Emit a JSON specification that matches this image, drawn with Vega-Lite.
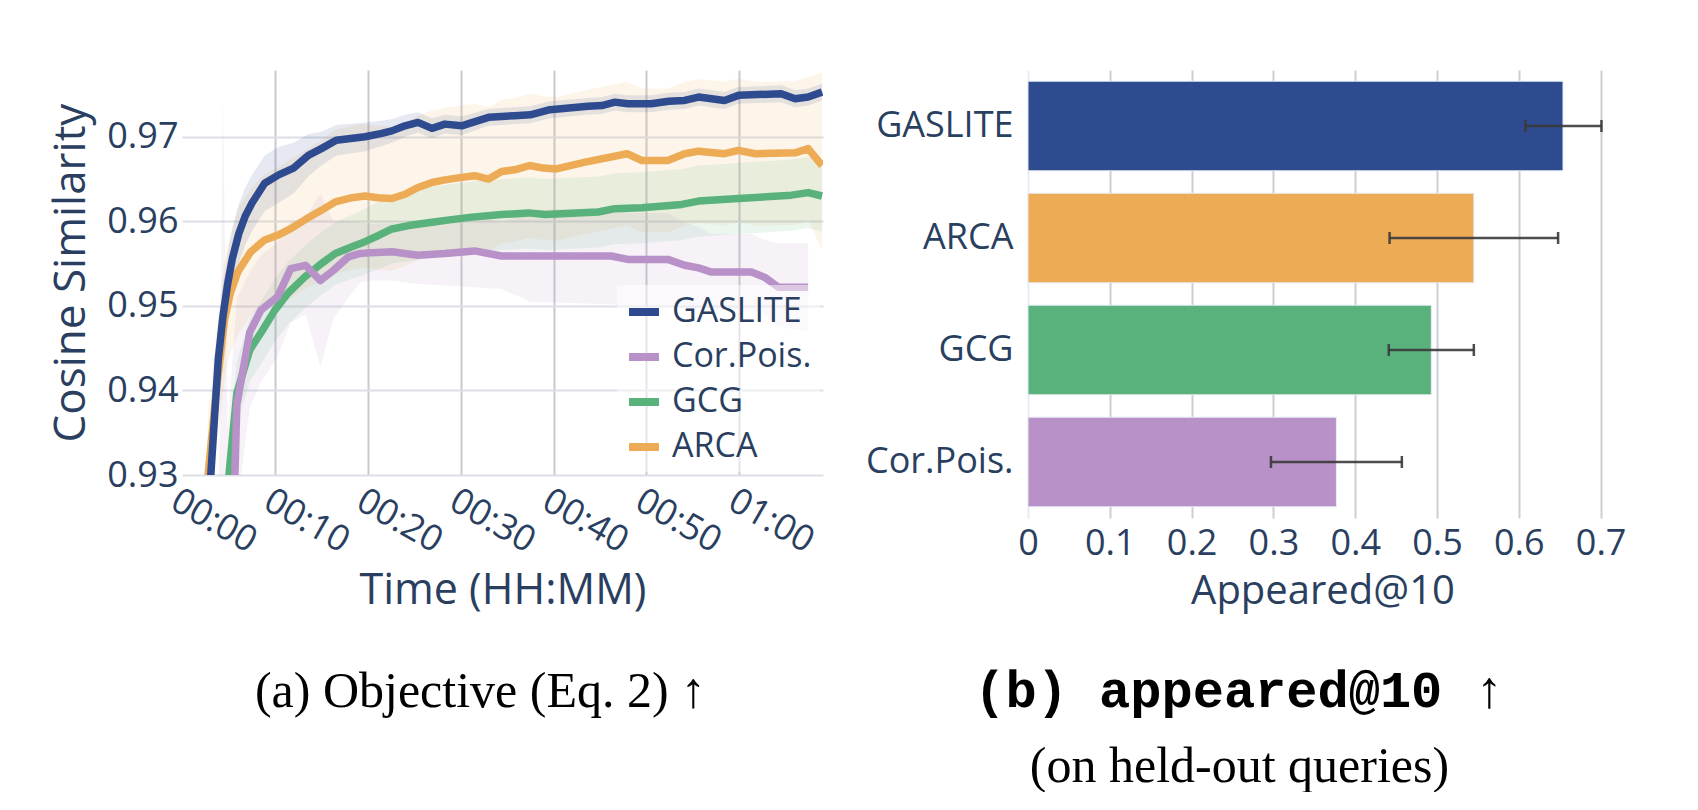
{
  "$schema": "https://vega.github.io/schema/vega-lite/v6.json",
  "background": "white",
  "padding": {"left": 49, "top": 70, "right": 0, "bottom": 0},
  "spacing": 42,
  "datasets": {
    "lines": [
      {"method": "ARCA", "t": 2.5, "m": 0.92, "lo": 0.913, "hi": 0.927},
      {"method": "ARCA", "t": 2.8, "m": 0.93, "lo": 0.923, "hi": 0.937},
      {"method": "ARCA", "t": 3.7, "m": 0.94, "lo": 0.933, "hi": 0.947},
      {"method": "ARCA", "t": 4.6, "m": 0.9485, "lo": 0.9415, "hi": 0.9555},
      {"method": "ARCA", "t": 5.2, "m": 0.9515, "lo": 0.9445, "hi": 0.9585},
      {"method": "ARCA", "t": 6.0, "m": 0.954, "lo": 0.9465, "hi": 0.9615},
      {"method": "ARCA", "t": 7.4, "m": 0.9564, "lo": 0.9489, "hi": 0.9639},
      {"method": "ARCA", "t": 8.9, "m": 0.9578, "lo": 0.95, "hi": 0.9656},
      {"method": "ARCA", "t": 10.4, "m": 0.9584, "lo": 0.9504, "hi": 0.9664},
      {"method": "ARCA", "t": 11.8, "m": 0.9592, "lo": 0.951, "hi": 0.9674},
      {"method": "ARCA", "t": 13.4, "m": 0.9603, "lo": 0.9521, "hi": 0.9685},
      {"method": "ARCA", "t": 15.0, "m": 0.9613, "lo": 0.953, "hi": 0.9696},
      {"method": "ARCA", "t": 16.5, "m": 0.9623, "lo": 0.9538, "hi": 0.9708},
      {"method": "ARCA", "t": 18.3, "m": 0.9628, "lo": 0.9543, "hi": 0.9713},
      {"method": "ARCA", "t": 19.7, "m": 0.963, "lo": 0.9545, "hi": 0.9715},
      {"method": "ARCA", "t": 21.1, "m": 0.9628, "lo": 0.9543, "hi": 0.9713},
      {"method": "ARCA", "t": 22.6, "m": 0.9627, "lo": 0.9542, "hi": 0.9712},
      {"method": "ARCA", "t": 24.0, "m": 0.9632, "lo": 0.9547, "hi": 0.9717},
      {"method": "ARCA", "t": 25.4, "m": 0.964, "lo": 0.9555, "hi": 0.9725},
      {"method": "ARCA", "t": 26.9, "m": 0.9646, "lo": 0.9561, "hi": 0.9731},
      {"method": "ARCA", "t": 28.3, "m": 0.9649, "lo": 0.9564, "hi": 0.9734},
      {"method": "ARCA", "t": 30.1, "m": 0.9652, "lo": 0.9567, "hi": 0.9737},
      {"method": "ARCA", "t": 31.5, "m": 0.9654, "lo": 0.9569, "hi": 0.9739},
      {"method": "ARCA", "t": 33.0, "m": 0.965, "lo": 0.9565, "hi": 0.9735},
      {"method": "ARCA", "t": 34.4, "m": 0.9659, "lo": 0.9574, "hi": 0.9744},
      {"method": "ARCA", "t": 35.8, "m": 0.9661, "lo": 0.9576, "hi": 0.9746},
      {"method": "ARCA", "t": 37.4, "m": 0.9666, "lo": 0.9581, "hi": 0.9751},
      {"method": "ARCA", "t": 38.9, "m": 0.9663, "lo": 0.9578, "hi": 0.9748},
      {"method": "ARCA", "t": 40.3, "m": 0.9662, "lo": 0.9577, "hi": 0.9747},
      {"method": "ARCA", "t": 43.4, "m": 0.967, "lo": 0.9585, "hi": 0.9755},
      {"method": "ARCA", "t": 47.9, "m": 0.968, "lo": 0.9595, "hi": 0.9765},
      {"method": "ARCA", "t": 49.5, "m": 0.9672, "lo": 0.9587, "hi": 0.9757},
      {"method": "ARCA", "t": 52.3, "m": 0.9672, "lo": 0.9587, "hi": 0.9757},
      {"method": "ARCA", "t": 54.1, "m": 0.968, "lo": 0.9595, "hi": 0.9765},
      {"method": "ARCA", "t": 55.6, "m": 0.9683, "lo": 0.9598, "hi": 0.9768},
      {"method": "ARCA", "t": 58.4, "m": 0.968, "lo": 0.9595, "hi": 0.9765},
      {"method": "ARCA", "t": 59.9, "m": 0.9684, "lo": 0.9599, "hi": 0.9769},
      {"method": "ARCA", "t": 61.7, "m": 0.968, "lo": 0.9595, "hi": 0.9765},
      {"method": "ARCA", "t": 66.0, "m": 0.9681, "lo": 0.9596, "hi": 0.9766},
      {"method": "ARCA", "t": 67.4, "m": 0.9686, "lo": 0.9601, "hi": 0.9771},
      {"method": "ARCA", "t": 68.9, "m": 0.9666, "lo": 0.9566, "hi": 0.9776},

      {"method": "GCG", "t": 4.4, "m": 0.92, "lo": 0.9163, "hi": 0.9237},
      {"method": "GCG", "t": 5.05, "m": 0.93, "lo": 0.9263, "hi": 0.9337},
      {"method": "GCG", "t": 5.9, "m": 0.9397, "lo": 0.936, "hi": 0.9434},
      {"method": "GCG", "t": 7.3, "m": 0.9448, "lo": 0.9411, "hi": 0.9485},
      {"method": "GCG", "t": 8.6, "m": 0.947, "lo": 0.9433, "hi": 0.9507},
      {"method": "GCG", "t": 10.0, "m": 0.9495, "lo": 0.9458, "hi": 0.9532},
      {"method": "GCG", "t": 11.4, "m": 0.9515, "lo": 0.9478, "hi": 0.9552},
      {"method": "GCG", "t": 13.2, "m": 0.9534, "lo": 0.9497, "hi": 0.9571},
      {"method": "GCG", "t": 15.0, "m": 0.955, "lo": 0.9513, "hi": 0.9587},
      {"method": "GCG", "t": 16.5, "m": 0.9562, "lo": 0.9525, "hi": 0.9599},
      {"method": "GCG", "t": 18.3, "m": 0.957, "lo": 0.9532, "hi": 0.9608},
      {"method": "GCG", "t": 19.7, "m": 0.9576, "lo": 0.9537, "hi": 0.9615},
      {"method": "GCG", "t": 21.1, "m": 0.9583, "lo": 0.9543, "hi": 0.9623},
      {"method": "GCG", "t": 22.6, "m": 0.9591, "lo": 0.955, "hi": 0.9632},
      {"method": "GCG", "t": 24.4, "m": 0.9595, "lo": 0.9553, "hi": 0.9637},
      {"method": "GCG", "t": 26.9, "m": 0.9599, "lo": 0.9557, "hi": 0.9641},
      {"method": "GCG", "t": 29.0, "m": 0.9602, "lo": 0.956, "hi": 0.9644},
      {"method": "GCG", "t": 31.2, "m": 0.9605, "lo": 0.9563, "hi": 0.9647},
      {"method": "GCG", "t": 34.4, "m": 0.9608, "lo": 0.9566, "hi": 0.965},
      {"method": "GCG", "t": 37.3, "m": 0.961, "lo": 0.9568, "hi": 0.9652},
      {"method": "GCG", "t": 39.1, "m": 0.9608, "lo": 0.9566, "hi": 0.965},
      {"method": "GCG", "t": 44.8, "m": 0.9611, "lo": 0.9569, "hi": 0.9653},
      {"method": "GCG", "t": 46.6, "m": 0.9615, "lo": 0.9573, "hi": 0.9657},
      {"method": "GCG", "t": 49.5, "m": 0.9616, "lo": 0.9574, "hi": 0.9658},
      {"method": "GCG", "t": 53.8, "m": 0.962, "lo": 0.9578, "hi": 0.9662},
      {"method": "GCG", "t": 55.6, "m": 0.9624, "lo": 0.9582, "hi": 0.9666},
      {"method": "GCG", "t": 59.9, "m": 0.9627, "lo": 0.9585, "hi": 0.9669},
      {"method": "GCG", "t": 65.6, "m": 0.9631, "lo": 0.9589, "hi": 0.9673},
      {"method": "GCG", "t": 67.4, "m": 0.9634, "lo": 0.9592, "hi": 0.9676},
      {"method": "GCG", "t": 68.9, "m": 0.963, "lo": 0.9588, "hi": 0.9672},

      {"method": "Cor.Pois.", "t": 4.0, "m": 0.905, "lo": 0.88, "hi": 0.93},
      {"method": "Cor.Pois.", "t": 4.4, "m": 0.912, "lo": 0.85, "hi": 0.9751},
      {"method": "Cor.Pois.", "t": 4.9, "m": 0.918, "lo": 0.89, "hi": 0.935},
      {"method": "Cor.Pois.", "t": 5.5, "m": 0.925, "lo": 0.905, "hi": 0.945},
      {"method": "Cor.Pois.", "t": 5.7, "m": 0.93, "lo": 0.912, "hi": 0.948},
      {"method": "Cor.Pois.", "t": 5.9, "m": 0.9383, "lo": 0.926, "hi": 0.951},
      {"method": "Cor.Pois.", "t": 7.3, "m": 0.9469, "lo": 0.938, "hi": 0.954},
      {"method": "Cor.Pois.", "t": 8.5, "m": 0.9495, "lo": 0.941, "hi": 0.956},
      {"method": "Cor.Pois.", "t": 10.3, "m": 0.9511, "lo": 0.944, "hi": 0.9575},
      {"method": "Cor.Pois.", "t": 11.7, "m": 0.9544, "lo": 0.948, "hi": 0.96},
      {"method": "Cor.Pois.", "t": 13.3, "m": 0.9548, "lo": 0.949, "hi": 0.9605},
      {"method": "Cor.Pois.", "t": 14.9, "m": 0.953, "lo": 0.9428, "hi": 0.9633},
      {"method": "Cor.Pois.", "t": 16.3, "m": 0.9542, "lo": 0.9485, "hi": 0.96},
      {"method": "Cor.Pois.", "t": 17.9, "m": 0.9558, "lo": 0.951, "hi": 0.96},
      {"method": "Cor.Pois.", "t": 19.2, "m": 0.9562, "lo": 0.9528, "hi": 0.9598},
      {"method": "Cor.Pois.", "t": 20.4, "m": 0.9563, "lo": 0.953, "hi": 0.9597},
      {"method": "Cor.Pois.", "t": 22.6, "m": 0.9564, "lo": 0.953, "hi": 0.9598},
      {"method": "Cor.Pois.", "t": 25.4, "m": 0.956, "lo": 0.9526, "hi": 0.9594},
      {"method": "Cor.Pois.", "t": 28.3, "m": 0.9562, "lo": 0.9524, "hi": 0.96},
      {"method": "Cor.Pois.", "t": 31.5, "m": 0.9565, "lo": 0.9522, "hi": 0.9608},
      {"method": "Cor.Pois.", "t": 34.4, "m": 0.9559, "lo": 0.952, "hi": 0.9598},
      {"method": "Cor.Pois.", "t": 37.5, "m": 0.9559, "lo": 0.9505, "hi": 0.9613},
      {"method": "Cor.Pois.", "t": 46.2, "m": 0.9559, "lo": 0.9502, "hi": 0.9616},
      {"method": "Cor.Pois.", "t": 48.0, "m": 0.9555, "lo": 0.95, "hi": 0.961},
      {"method": "Cor.Pois.", "t": 52.3, "m": 0.9555, "lo": 0.95, "hi": 0.961},
      {"method": "Cor.Pois.", "t": 54.1, "m": 0.9548, "lo": 0.9497, "hi": 0.9599},
      {"method": "Cor.Pois.", "t": 55.6, "m": 0.9545, "lo": 0.9497, "hi": 0.9593},
      {"method": "Cor.Pois.", "t": 57.0, "m": 0.954, "lo": 0.9495, "hi": 0.9585},
      {"method": "Cor.Pois.", "t": 61.3, "m": 0.954, "lo": 0.9495, "hi": 0.9585},
      {"method": "Cor.Pois.", "t": 62.7, "m": 0.9534, "lo": 0.949, "hi": 0.9578},
      {"method": "Cor.Pois.", "t": 64.2, "m": 0.9522, "lo": 0.9475, "hi": 0.9574},
      {"method": "Cor.Pois.", "t": 67.4, "m": 0.9522, "lo": 0.947, "hi": 0.9574},

      {"method": "GASLITE", "t": 2.9, "m": 0.918, "lo": 0.914, "hi": 0.922},
      {"method": "GASLITE", "t": 3.1, "m": 0.93, "lo": 0.926, "hi": 0.934},
      {"method": "GASLITE", "t": 3.9, "m": 0.9436, "lo": 0.9396, "hi": 0.9476},
      {"method": "GASLITE", "t": 4.4, "m": 0.9487, "lo": 0.9449, "hi": 0.9525},
      {"method": "GASLITE", "t": 4.9, "m": 0.9525, "lo": 0.9489, "hi": 0.9561},
      {"method": "GASLITE", "t": 5.4, "m": 0.9555, "lo": 0.952, "hi": 0.959},
      {"method": "GASLITE", "t": 6.1, "m": 0.9585, "lo": 0.955, "hi": 0.962},
      {"method": "GASLITE", "t": 6.8, "m": 0.9606, "lo": 0.9572, "hi": 0.964},
      {"method": "GASLITE", "t": 7.5, "m": 0.9621, "lo": 0.9588, "hi": 0.9654},
      {"method": "GASLITE", "t": 8.9, "m": 0.9645, "lo": 0.9612, "hi": 0.9678},
      {"method": "GASLITE", "t": 10.4, "m": 0.9655, "lo": 0.9622, "hi": 0.9688},
      {"method": "GASLITE", "t": 12.0, "m": 0.9663, "lo": 0.9633, "hi": 0.9693},
      {"method": "GASLITE", "t": 13.6, "m": 0.9678, "lo": 0.9653, "hi": 0.9703},
      {"method": "GASLITE", "t": 15.0, "m": 0.9686, "lo": 0.9666, "hi": 0.9706},
      {"method": "GASLITE", "t": 16.6, "m": 0.9696, "lo": 0.9678, "hi": 0.9714},
      {"method": "GASLITE", "t": 19.7, "m": 0.97, "lo": 0.9683, "hi": 0.9717},
      {"method": "GASLITE", "t": 21.5, "m": 0.9704, "lo": 0.9689, "hi": 0.9719},
      {"method": "GASLITE", "t": 22.6, "m": 0.9707, "lo": 0.9693, "hi": 0.9721},
      {"method": "GASLITE", "t": 24.0, "m": 0.9713, "lo": 0.97, "hi": 0.9726},
      {"method": "GASLITE", "t": 25.4, "m": 0.9717, "lo": 0.9705, "hi": 0.9729},
      {"method": "GASLITE", "t": 26.9, "m": 0.971, "lo": 0.9698, "hi": 0.9722},
      {"method": "GASLITE", "t": 28.3, "m": 0.9715, "lo": 0.9704, "hi": 0.9726},
      {"method": "GASLITE", "t": 30.1, "m": 0.9713, "lo": 0.9702, "hi": 0.9724},
      {"method": "GASLITE", "t": 33.0, "m": 0.9723, "lo": 0.9713, "hi": 0.9733},
      {"method": "GASLITE", "t": 35.8, "m": 0.9725, "lo": 0.9715, "hi": 0.9735},
      {"method": "GASLITE", "t": 37.5, "m": 0.9726, "lo": 0.9716, "hi": 0.9736},
      {"method": "GASLITE", "t": 39.6, "m": 0.9732, "lo": 0.9722, "hi": 0.9742},
      {"method": "GASLITE", "t": 43.7, "m": 0.9736, "lo": 0.9726, "hi": 0.9746},
      {"method": "GASLITE", "t": 45.2, "m": 0.9737, "lo": 0.9727, "hi": 0.9747},
      {"method": "GASLITE", "t": 46.6, "m": 0.9741, "lo": 0.9731, "hi": 0.9751},
      {"method": "GASLITE", "t": 48.0, "m": 0.9739, "lo": 0.9729, "hi": 0.9749},
      {"method": "GASLITE", "t": 50.5, "m": 0.9739, "lo": 0.9729, "hi": 0.9749},
      {"method": "GASLITE", "t": 52.4, "m": 0.9742, "lo": 0.9732, "hi": 0.9752},
      {"method": "GASLITE", "t": 54.1, "m": 0.9743, "lo": 0.9733, "hi": 0.9753},
      {"method": "GASLITE", "t": 55.6, "m": 0.9747, "lo": 0.9737, "hi": 0.9757},
      {"method": "GASLITE", "t": 58.4, "m": 0.9743, "lo": 0.9733, "hi": 0.9753},
      {"method": "GASLITE", "t": 59.9, "m": 0.9749, "lo": 0.9739, "hi": 0.9759},
      {"method": "GASLITE", "t": 64.5, "m": 0.9751, "lo": 0.9741, "hi": 0.9761},
      {"method": "GASLITE", "t": 66.0, "m": 0.9745, "lo": 0.9735, "hi": 0.9755},
      {"method": "GASLITE", "t": 67.4, "m": 0.9747, "lo": 0.9737, "hi": 0.9757},
      {"method": "GASLITE", "t": 68.9, "m": 0.9753, "lo": 0.9743, "hi": 0.9763}
    ],
    "bars": [
      {"method": "GASLITE", "value": 0.654, "lo": 0.608, "hi": 0.701},
      {"method": "ARCA", "value": 0.545, "lo": 0.442, "hi": 0.648},
      {"method": "GCG", "value": 0.493, "lo": 0.441, "hi": 0.545},
      {"method": "Cor.Pois.", "value": 0.377, "lo": 0.297, "hi": 0.457}
    ]
  },
  "hconcat": [
    {
      "width": 641,
      "height": 405,
      "data": {"name": "lines"},
      "title": {
        "text": "(a) Objective (Eq. 2) ↑",
        "orient": "bottom",
        "anchor": "middle",
        "font": "Liberation Serif",
        "fontSize": 50,
        "fontWeight": "normal",
        "color": "#000000",
        "offset": 55,
        "dx": -22
      },
      "encoding": {
        "x": {
          "field": "t",
          "type": "quantitative",
          "scale": {"domain": [0, 69], "nice": false, "zero": false},
          "axis": {
            "title": "Time (HH:MM)",
            "titleFontSize": 43,
            "values": [0, 10, 20, 30, 40, 50, 60],
            "labelExpr": "(datum.value >= 60 ? '01:' : '00:') + ((datum.value % 60) < 10 ? '0' : '') + (datum.value % 60)",
            "labelAngle": 30,
            "labelAlign": "left",
            "labelBaseline": "top",
            "labelPadding": 8,
            "labelFlush": false,
            "labelOverlap": false,
            "titlePadding": 10,
            "gridColor": "#c9cad1",
            "gridWidth": 2,
            "gridOpacity": {"condition": {"test": "datum.value === 0", "value": 0}, "value": 1}
          }
        },
        "y": {
          "type": "quantitative",
          "scale": {"domain": [0.93, 0.9779], "nice": false, "zero": false},
          "axis": {
            "title": "Cosine Similarity",
            "titleFontSize": 44,
            "values": [0.93, 0.94, 0.95, 0.96, 0.97],
            "format": ".2f",
            "labelPadding": 4,
            "titlePadding": 13,
            "gridColor": "#dcdfe7",
            "gridWidth": 2
          }
        }
      },
      "layer": [
        {
          "transform": [{"filter": "datum.method === 'ARCA'"}],
          "mark": {"type": "area", "fill": "#EDAB55", "fillOpacity": 0.12, "clip": true},
          "encoding": {"y": {"field": "lo", "type": "quantitative"}, "y2": {"field": "hi"}}
        },
        {
          "transform": [{"filter": "datum.method === 'GCG'"}],
          "mark": {"type": "area", "fill": "#59B27B", "fillOpacity": 0.12, "clip": true},
          "encoding": {"y": {"field": "lo", "type": "quantitative"}, "y2": {"field": "hi"}}
        },
        {
          "transform": [{"filter": "datum.method === 'Cor.Pois.'"}],
          "mark": {"type": "area", "fill": "#B791C7", "fillOpacity": 0.12, "clip": true},
          "encoding": {"y": {"field": "lo", "type": "quantitative"}, "y2": {"field": "hi"}}
        },
        {
          "transform": [{"filter": "datum.method === 'GASLITE'"}],
          "mark": {"type": "area", "fill": "#2F4B8F", "fillOpacity": 0.12, "clip": true},
          "encoding": {"y": {"field": "lo", "type": "quantitative"}, "y2": {"field": "hi"}}
        },
        {
          "mark": {"type": "line", "strokeWidth": 7.5, "clip": true, "strokeJoin": "round"},
          "encoding": {
            "y": {"field": "m", "type": "quantitative"},
            "color": {
              "field": "method",
              "type": "nominal",
              "scale": {
                "domain": ["GASLITE", "Cor.Pois.", "GCG", "ARCA"],
                "range": ["#2F4B8F", "#B791C7", "#59B27B", "#EDAB55"]
              },
              "legend": {
                "title": null,
                "orient": "bottom-right",
                "offset": 3,
                "fillColor": "rgba(255,255,255,0.5)",
                "padding": 8,
                "symbolType": "stroke",
                "symbolStrokeWidth": 8,
                "symbolSize": 900,
                "symbolOpacity": 1,
                "labelFont": "Open Sans",
                "labelFontSize": 34,
                "labelColor": "#2a3f5f",
                "labelOffset": 9,
                "labelLimit": 400,
                "rowPadding": 9
              }
            }
          }
        }
      ]
    },
    {
      "width": 589,
      "height": 448,
      "data": {"name": "bars"},
      "title": {
        "text": "(b) appeared@10 ↑",
        "subtitle": "(on held-out queries)",
        "orient": "bottom",
        "anchor": "middle",
        "font": "Liberation Mono",
        "fontSize": 52,
        "fontWeight": "bold",
        "color": "#000000",
        "subtitleFont": "Liberation Serif",
        "subtitleFontSize": 50,
        "subtitleColor": "#000000",
        "subtitlePadding": 24,
        "offset": 55,
        "dx": -83
      },
      "encoding": {
        "y": {
          "field": "method",
          "type": "nominal",
          "sort": ["GASLITE", "ARCA", "GCG", "Cor.Pois."],
          "scale": {"paddingInner": 0.2, "paddingOuter": 0.1},
          "axis": {"title": null, "labelPadding": 15, "grid": false, "labelLimit": 400}
        }
      },
      "layer": [
        {
          "mark": {"type": "bar", "stroke": "#e8ecf4", "strokeWidth": 1},
          "encoding": {
            "x": {
              "field": "value",
              "type": "quantitative",
              "scale": {"domain": [0, 0.72], "nice": false},
              "axis": {
                "title": "Appeared@10",
                "titleFontSize": 40,
                "values": [0, 0.1, 0.2, 0.3, 0.4, 0.5, 0.6, 0.7],
                "format": "~g",
                "labelPadding": 8,
                "labelFlush": false,
                "titlePadding": 10,
                "gridColor": {"condition": {"test": "datum.value === 0", "value": "#e6ebf4"}, "value": "#cdced4"},
                "gridWidth": 2
              }
            },
            "fill": {
              "field": "method",
              "type": "nominal",
              "scale": {
                "domain": ["GASLITE", "Cor.Pois.", "GCG", "ARCA"],
                "range": ["#2F4B8F", "#B791C7", "#59B27B", "#EDAB55"]
              },
              "legend": null
            }
          }
        },
        {
          "mark": {"type": "rule", "color": "#3a3a3a", "strokeWidth": 2.5, "opacity": 0.9},
          "encoding": {
            "x": {"field": "lo", "type": "quantitative"},
            "x2": {"field": "hi"}
          }
        },
        {
          "mark": {"type": "tick", "color": "#3a3a3a", "size": 12, "thickness": 2.5, "opacity": 0.9},
          "encoding": {"x": {"field": "lo", "type": "quantitative"}}
        },
        {
          "mark": {"type": "tick", "color": "#3a3a3a", "size": 12, "thickness": 2.5, "opacity": 0.9},
          "encoding": {"x": {"field": "hi", "type": "quantitative"}}
        }
      ]
    }
  ],
  "resolve": {"scale": {"color": "independent", "fill": "independent"}},
  "config": {
    "font": "Open Sans",
    "view": {"stroke": null},
    "axis": {
      "labelFont": "Open Sans",
      "titleFont": "Open Sans",
      "labelColor": "#2a3f5f",
      "titleColor": "#2a3f5f",
      "labelFontSize": 36,
      "titleFontSize": 41,
      "titleFontWeight": "normal",
      "domain": false,
      "ticks": false
    }
  }
}
